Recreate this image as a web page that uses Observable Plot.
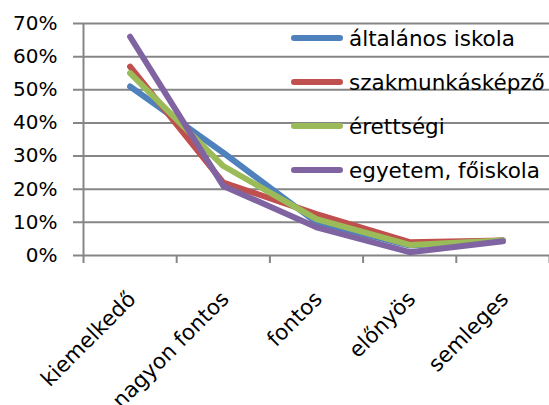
<!DOCTYPE html>
<html>
<head>
<meta charset="utf-8">
<script src="https://cdn.jsdelivr.net/npm/d3@7"></script>
<script src="https://cdn.jsdelivr.net/npm/@observablehq/plot@0.6"></script>
<style>
  html, body { margin: 0; padding: 0; background: #fff; }
  #wrap { position: relative; width: 549px; height: 405px; overflow: hidden; font-family: "DejaVu Sans", sans-serif; }
  #legend { position: absolute; left: 291px; top: 16px; }
  .row { display: flex; align-items: center; height: 44px; font-size: 21.5px; color: #000; }
  .sw { width: 52px; height: 5.5px; border-radius: 3px; margin-right: 6px; }
</style>
</head>
<body>
<div id="wrap"></div>
<script>
const categories = ["kiemelkedő", "nagyon fontos", "fontos", "előnyös", "semleges"];
const seriesNames = ["általános iskola", "szakmunkásképző", "érettségi", "egyetem, főiskola"];
const seriesColors = ["#4F81BD", "#C0504D", "#9BBB59", "#8064A2"];
const altalanos = [51, 31, 10, 3, 4.5];
const szakmunkas = [57, 22, 12.5, 4, 4.5];
const erettsegi = [55, 27, 11, 3.2, 4.5];
const egyetem = [66, 21, 8.5, 1, 4.3];
const yTicks = [0, 10, 20, 30, 40, 50, 60, 70];

const seriesValues = [altalanos, szakmunkas, erettsegi, egyetem];
const rows = [];
seriesValues.forEach((vals, s) => {
  vals.forEach((v, i) => rows.push({series: seriesNames[s], idx: i + 0.5, value: v / 100}));
});
const catRows = categories.map((c, i) => ({label: c, idx: i + 0.5}));

const grey = "#868686";
const chart = Plot.plot({
  width: 549,
  height: 405,
  marginLeft: 83,
  marginRight: 0,
  marginTop: 23,
  marginBottom: 150,
  style: {fontFamily: "DejaVu Sans, sans-serif", background: "transparent", overflow: "visible"},
  x: {type: "linear", domain: [0, 5], label: null},
  y: {domain: [0, 0.7], label: null},
  color: {domain: seriesNames, range: seriesColors},
  marks: [
    Plot.ruleY(yTicks.map(d => d / 100), {stroke: grey, strokeWidth: 2, insetLeft: -10}),
    Plot.ruleX([0], {stroke: grey, strokeWidth: 2}),
    Plot.axisY({ticks: yTicks.map(d => d / 100), tickFormat: d => Math.round(d * 100) + "%", tickSize: 0, tickPadding: 26, fontSize: 20, fill: "#000", label: null}),
    Plot.axisX({ticks: [0, 1, 2, 3, 4, 5], tickFormat: () => "", tickSize: 8, stroke: grey, strokeWidth: 2, label: null}),
    Plot.text(catRows, {x: "idx", y: () => 0, text: "label", rotate: -45, textAnchor: "end", dx: 2, dy: 40, fontSize: 21.5, fill: "#000"}),
    Plot.line(rows, {x: "idx", y: "value", z: "series", stroke: "series", strokeWidth: 6, strokeLinecap: "round", strokeLinejoin: "round"})
  ]
});
const wrap = document.getElementById("wrap");
wrap.appendChild(chart);
const legend = document.createElement("div");
legend.id = "legend";
seriesNames.forEach((n, i) => {
  const r = document.createElement("div");
  r.className = "row";
  const sw = document.createElement("div");
  sw.className = "sw";
  sw.style.background = seriesColors[i];
  const t = document.createElement("span");
  t.textContent = n;
  r.appendChild(sw); r.appendChild(t);
  legend.appendChild(r);
});
wrap.appendChild(legend);
</script>
</body>
</html>
